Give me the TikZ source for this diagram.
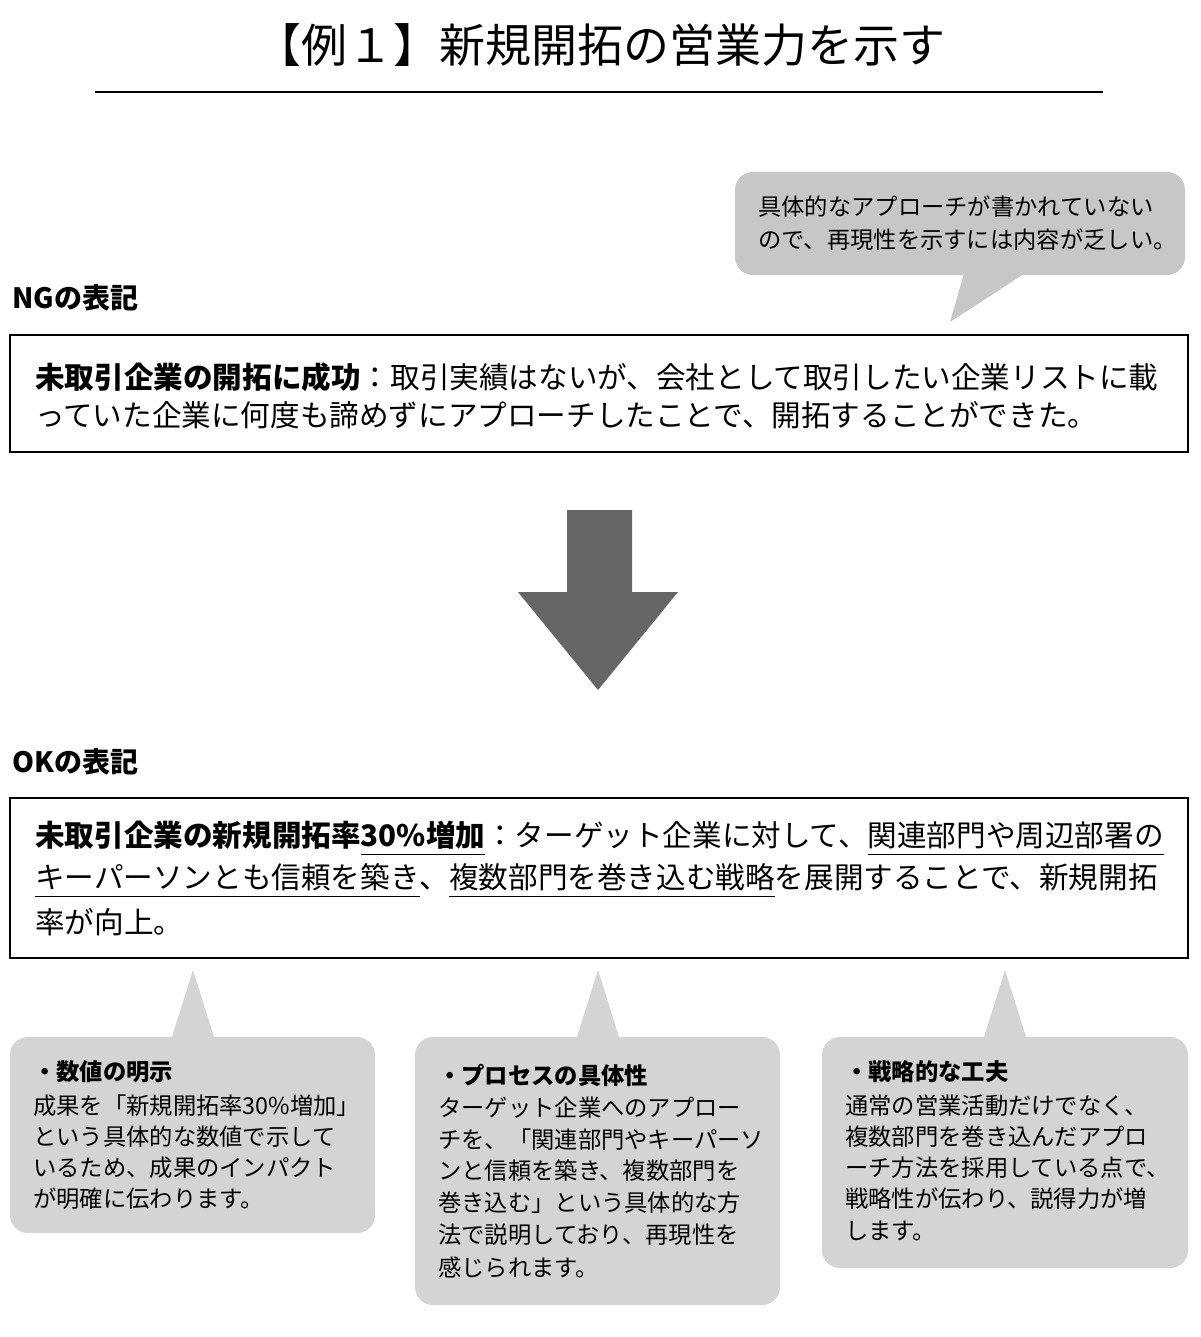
\documentclass[tikz,border=0pt]{standalone}
\usepackage{fontspec}
\setmainfont{Noto Sans CJK JP}
\newcommand\myul[1]{\setbox0\hbox{#1}\rlap{\rule[-8pt]{\wd0}{0.8pt}}\box0}
\begin{document}
\begin{tikzpicture}[x=1pt,y=-1pt,
  bub/.style={fill=black!22,rounded corners=18pt},
  bbub/.style={fill=black!17,rounded corners=18pt},
  tx/.style={anchor=west,inner sep=0pt,font=\fontsize{29.6}{32}\selectfont},
  sx/.style={anchor=west,inner sep=0pt,font=\fontsize{23.3}{26}\selectfont},
  hd/.style={anchor=west,inner sep=0pt,font=\fontsize{28}{30}\selectfont\bfseries}]
\useasboundingbox (0,0) rectangle (1200,1337);
\node[inner sep=0pt,font=\fontsize{46}{50}\selectfont] (title) at (600,45) {【例１】新規開拓の営業力を示す};
\draw[line width=1.5pt] (95,92) -- (1103,92);
% NG callout
\fill[black!22] (965,270) -- (950,322) -- (1030,270) -- cycle;
\fill[bub] (735,172) rectangle (1185,275);
\node[sx] (c1) at (758,207) {具体的なアプローチが書かれていない};
\node[sx] (c2) at (758,240) {ので、再現性を示すには内容が乏しい。};
\node[hd] (ng) at (12,298) {NGの表記};
\draw[line width=1.8pt] (10,335) rectangle (1188,452);
\node[tx] (n1) at (35,377) {\textbf{未取引企業の開拓に成功}：取引実績はないが、会社として取引したい企業リストに載};
\node[tx] (n2) at (35,415) {っていた企業に何度も諦めずにアプローチしたことで、開拓することができた。};
% arrow
\fill[black!60] (567,510) -- (632,510) -- (632,592) -- (678,592) -- (598,690) -- (518,592) -- (567,592) -- cycle;
\node[hd] (ok) at (12,762) {OKの表記};
\draw[line width=1.8pt] (10,798) rectangle (1188,958);
\node[tx] (o1) at (35,838) {\textbf{未取引企業の新規開拓率\myul{30\%増加}}：ターゲット企業に対して、\myul{関連部門や周辺部署の}};
\node[tx] (o2) at (35,880) {\myul{キーパーソンとも信頼を築き}、\myul{複数部門を巻き込む戦略}を展開することで、新規開拓};
\node[tx] (o3) at (35,922) {率が向上。};
% bottom bubbles
\foreach \cx in {193,598,1005}{
  \fill[black!17] (\cx-22,1040) -- (\cx,970) -- (\cx+22,1040) -- cycle;
}
\fill[bbub] (10,1037) rectangle (375,1233);
\fill[bbub] (415,1037) rectangle (780,1305);
\fill[bbub] (822,1037) rectangle (1188,1268);
\node[sx] (a0) at (33,1072) {\textbf{・数値の明示}};
\node[sx] (a1) at (33,1106) {成果を「新規開拓率30\%増加」};
\node[sx] (a2) at (33,1137) {という具体的な数値で示して};
\node[sx] (a3) at (33,1168) {いるため、成果のインパクト};
\node[sx] (a4) at (33,1199) {が明確に伝わります。};
\node[sx] (b0) at (438,1076) {\textbf{・プロセスの具体性}};
\node[sx] (b1) at (438,1108) {ターゲット企業へのアプロー};
\node[sx] (b2) at (438,1140) {チを、「関連部門やキーパーソ};
\node[sx] (b3) at (438,1171) {ンと信頼を築き、複数部門を};
\node[sx] (b4) at (438,1203) {巻き込む」という具体的な方};
\node[sx] (b5) at (438,1235) {法で説明しており、再現性を};
\node[sx] (b6) at (438,1267) {感じられます。};
\node[sx] (d0) at (845,1072) {\textbf{・戦略的な工夫}};
\node[sx] (d1) at (845,1106) {通常の営業活動だけでなく、};
\node[sx] (d2) at (845,1137) {複数部門を巻き込んだアプロ};
\node[sx] (d3) at (845,1168) {ーチ方法を採用している点で、};
\node[sx] (d4) at (845,1199) {戦略性が伝わり、説得力が増};
\node[sx] (d5) at (845,1231) {します。};
\end{tikzpicture}
\end{document}
